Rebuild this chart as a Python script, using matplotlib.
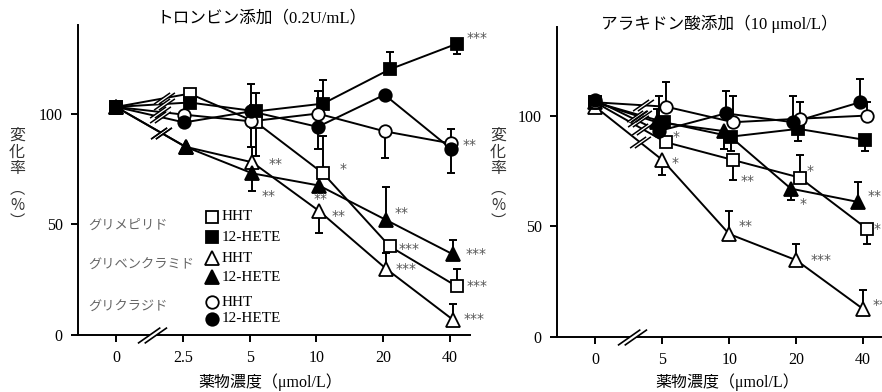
import numpy as np
import matplotlib
matplotlib.use('Agg')
import matplotlib.pyplot as plt
from matplotlib.path import Path

plt.rcParams['font.family'] = ['Liberation Serif', 'Noto Sans CJK JP']

# ---------------- data ----------------
cats_thr = ['0', '2.5', '5', '10', '20', '40']
cats_aa = ['0', '5', '10', '20', '40']

# Thrombin (0.2 U/mL)
thr_glim_hht = [103, 109, 96, 73, 40, 22]
thr_glim_hht_err = [0, 0, -15, 17, 0, 8]
thr_glim_hete = [103, 105, 101, 104.5, 120, 131.5]
thr_glim_hete_err = [0, 0, 8.5, 10.5, 8, -4.5]
thr_glib_hht = [103, 85, 78, 56, 30, 7]
thr_glib_hht_err = [0, 0, 7, -10, 7, 7]
thr_glib_hete = [103, 85, 73, 67.5, 52, 36.5]
thr_glib_hete_err = [0, 0, -8, 0, 15, 6.5]
thr_glic_hht = [103, 99.5, 96.5, 100, 92, 86.5]
thr_glic_hht_err = [0, 0, -11.5, 10, -12, 6.5]
thr_glic_hete = [103, 96, 101, 94, 108.5, 84]
thr_glic_hete_err = [0, 0, 12.5, -10, 0, -11]

thr_glim_hht_sig = ['', '', '', '*', '***', '***']
thr_glim_hete_sig = ['', '', '', '', '', '***']
thr_glib_hht_sig = ['', '', '**', '**', '***', '***']
thr_glib_hete_sig = ['', '', '**', '**', '**', '***']
thr_glic_hht_sig = ['', '', '', '', '', '']
thr_glic_hete_sig = ['', '', '', '', '', '**']

# Arachidonic acid (10 umol/L)
aa_glim_hht = [106, 88, 80, 72, 49]
aa_glim_hht_err = [0, 0, -9, 10, -7]
aa_glim_hete = [106, 97, 90.5, 94, 89]
aa_glim_hete_err = [0, 0, -6.5, -5.3, -5]
aa_glib_hht = [104, 80, 46.5, 34.7, 12.6]
aa_glib_hht_err = [0, -7, 10.5, 7.5, 8.5]
aa_glib_hete = [106, 97, 93, 67, 61]
aa_glib_hete_err = [0, 6, -8, -5, 9]
aa_glic_hht = [106, 104, 97, 98.6, 100]
aa_glic_hht_err = [0, 11, 12, 7.6, 6]
aa_glic_hete = [107, 93, 101, 97, 106]
aa_glic_hete_err = [0, 16, 10, 12, 10.6]

aa_glim_hht_sig = ['', '*', '**', '*', '*']
aa_glim_hete_sig = ['', '', '', '', '']
aa_glib_hht_sig = ['', '*', '**', '***', '***']
aa_glib_hete_sig = ['', '', '', '*', '**']
aa_glic_hht_sig = ['', '', '', '', '']
aa_glic_hete_sig = ['', '', '', '', '']

legend_drugs = ['グリメピリド', 'グリベンクラミド', 'グリクラジド']
legend_labels = ['HHT', '12-HETE']

# ---------------- styles ----------------
sq = dict(marker='s', ms=8.5)
ci = dict(marker='o', ms=9)
tr = dict(marker='^', ms=10)

# star offsets (points): per series, per index
thr_series = [
    (thr_glim_hht, thr_glim_hht_err, thr_glim_hht_sig, sq, False, 0.10,
     {3: (12, 3), 4: (6, -1.5), 5: (7, 0)}),
    (thr_glim_hete, thr_glim_hete_err, thr_glim_hete_sig, sq, True, 0.10,
     {5: (7, 4)}),
    (thr_glib_hht, thr_glib_hht_err, thr_glib_hht_sig, tr, False, 0.04,
     {2: (11.5, -1), 3: (9, -3.5), 4: (7, 0), 5: (8, 0)}),
    (thr_glib_hete, thr_glib_hete_err, thr_glib_hete_sig, tr, True, 0.04,
     {2: (7, -16), 3: (-4, -10), 4: (6.5, 5), 5: (9, 0)}),
    (thr_glic_hht, thr_glic_hht_err, thr_glic_hht_sig, ci, False, 0.02, {}),
    (thr_glic_hete, thr_glic_hete_err, thr_glic_hete_sig, ci, True, 0.02,
     {5: (8, 3)}),
]
aa_series = [
    (aa_glim_hht, aa_glim_hht_err, aa_glim_hht_sig, sq, False, 0.05,
     {1: (5, 3.5), 2: (6, -15), 3: (5, 5), 4: (5, 0)}),
    (aa_glim_hete, aa_glim_hete_err, aa_glim_hete_sig, sq, True, 0.03, {}),
    (aa_glib_hht, aa_glib_hht_err, aa_glib_hht_sig, tr, False, 0.0,
     {1: (7, -2), 2: (6.5, 6), 3: (10, 0), 4: (7, 3)}),
    (aa_glib_hete, aa_glib_hete_err, aa_glib_hete_sig, tr, True, -0.08,
     {3: (6.5, -11), 4: (7, 4)}),
    (aa_glic_hht, aa_glic_hht_err, aa_glic_hht_sig, ci, False, 0.06, {}),
    (aa_glic_hete, aa_glic_hete_err, aa_glic_hete_sig, ci, True, -0.05, {}),
]

# break-mark markers
slash_path = Path([(-0.65, -0.35), (0.35, 0.35), (-0.35, -0.35), (0.65, 0.35)],
                  [Path.MOVETO, Path.LINETO, Path.MOVETO, Path.LINETO])
gap_path = Path([(-0.65, -0.35), (-0.35, -0.35), (0.65, 0.35), (0.35, 0.35), (-0.65, -0.35)],
                [Path.MOVETO, Path.LINETO, Path.LINETO, Path.LINETO, Path.CLOSEPOLY])

STAR_COLOR = '#555555'
LW = 1.4


def draw_panel(ax, cats, series, brk_frac, axis_brk_x, xmax):
    n = len(cats)
    idx = np.arange(n)
    for vals, errs, sigs, mk, filled, off, star_off in series:
        vals = np.asarray(vals, float)
        errs = np.asarray(errs, float)
        x = idx + np.where(idx >= 1, off, 0.0)
        lower = np.clip(-errs, 0, None)
        upper = np.clip(errs, 0, None)
        has = errs != 0
        ax.errorbar(x[has], vals[has], yerr=[lower[has], upper[has]], fmt='none',
                    ecolor='black', elinewidth=LW, capsize=3, capthick=LW,
                    zorder=2, clip_on=False)
        ax.plot(x, vals, color='black', lw=LW, zorder=2, clip_on=False)
        # break on first segment
        bx = x[0] + brk_frac * (x[1] - x[0])
        by = vals[0] + brk_frac * (vals[1] - vals[0])
        ax.plot([bx], [by], marker=gap_path, ms=15, mfc='white', mec='none',
                ls='none', zorder=3)
        ax.plot([bx], [by], marker=slash_path, ms=15, mec='black', mew=1.1,
                ls='none', zorder=3.5)
        ax.plot(x, vals, ls='none', marker=mk['marker'], ms=mk['ms'],
                mfc='black' if filled else 'white', mec='black', mew=1.3,
                zorder=5, clip_on=False)
        for i, s in enumerate(sigs):
            if s:
                dx, dy = star_off.get(i, (7, 0))
                ax.annotate(s, (x[i], vals[i]), xytext=(dx, dy),
                            textcoords='offset points', ha='left', va='center',
                            fontsize=10, color=STAR_COLOR, family='DejaVu Sans',
                            annotation_clip=False, zorder=6)
    # axis break on x-axis
    ax.plot([axis_brk_x], [0], marker=gap_path, ms=21, mfc='white', mec='none',
            ls='none', zorder=6, clip_on=False)
    ax.plot([axis_brk_x], [0], marker=slash_path, ms=21, mec='black', mew=1.2,
            ls='none', zorder=6.5, clip_on=False)

    ax.set_xlim(-0.57, xmax)
    ax.set_ylim(0, 140)
    ax.set_xticks(idx)
    ax.set_xticklabels(cats)
    ax.set_yticks([0, 50, 100])
    for sp in ['top', 'right']:
        ax.spines[sp].set_visible(False)
    for sp in ['left', 'bottom']:
        ax.spines[sp].set_linewidth(1.4)
    ax.tick_params(direction='out', length=5, width=1.4, labelsize=11.5, pad=6)
    ax.patch.set_alpha(0)


fig = plt.figure(figsize=(8.82, 3.92), dpi=100)
W, H = 882.0, 392.0
ax1 = fig.add_axes([78 / W, 1 - 335 / H, (470 - 78) / W, (335 - 25) / H])
ax2 = fig.add_axes([557 / W, 1 - 337 / H, (882 - 557) / W, (337 - 27) / H])

draw_panel(ax1, cats_thr, thr_series, 0.65, 0.54, 5.3)
draw_panel(ax2, cats_aa, aa_series, 0.67, 0.55, 4.28)

# titles
fig.text(262 / W, 1 - 18 / H, 'トロンビン添加（0.2U/mL）', ha='center', va='center', fontsize=12)
fig.text(719 / W, 1 - 24 / H, 'アラキドン酸添加（10 μmol/L）', ha='center', va='center', fontsize=12)
# x labels
fig.text(270 / W, 1 - 382 / H, '薬物濃度（μmol/L）', ha='center', va='center', fontsize=11.5)
fig.text(727 / W, 1 - 382 / H, '薬物濃度（μmol/L）', ha='center', va='center', fontsize=11.5)
# y labels (vertical writing)
for xl in (17, 498):
    fig.text(xl / W, 1 - 152 / H, '変\n化\n率', ha='center', va='center', fontsize=11.5,
             linespacing=1.0, color='#333333', family=['Noto Sans CJK JP'])
    fig.text(xl / W, 1 - 205 / H, '︵\n%\n︶', ha='center', va='center', fontsize=11,
             linespacing=0.95, color='#333333', family=['Noto Sans CJK JP', 'DejaVu Sans'])

# legend (drawn manually in axes fraction)
name_y = [0.355, 0.226, 0.090]
for nm, yy in zip(legend_drugs, name_y):
    ax1.text(0.0255, yy, nm, transform=ax1.transAxes, ha='left', va='center',
             fontsize=9.5, color='#666666', family=['Noto Sans CJK JP'])
leg_y = [(0.381, 0.316), (0.248, 0.187), (0.106, 0.052)]
for mk, (y_open, y_fill) in zip([sq, tr, ci], leg_y):
    for yy, filled, lab in ((y_open, False, legend_labels[0]), (y_fill, True, legend_labels[1])):
        ax1.plot([0.342], [yy], transform=ax1.transAxes, marker=mk['marker'], ms=mk['ms'],
                 mfc='black' if filled else 'white', mec='black', mew=1.3, ls='none',
                 clip_on=False, zorder=5)
        ax1.text(0.367, yy, lab, transform=ax1.transAxes, ha='left', va='center',
                 fontsize=11)

fig.savefig('out.png', dpi=100)
